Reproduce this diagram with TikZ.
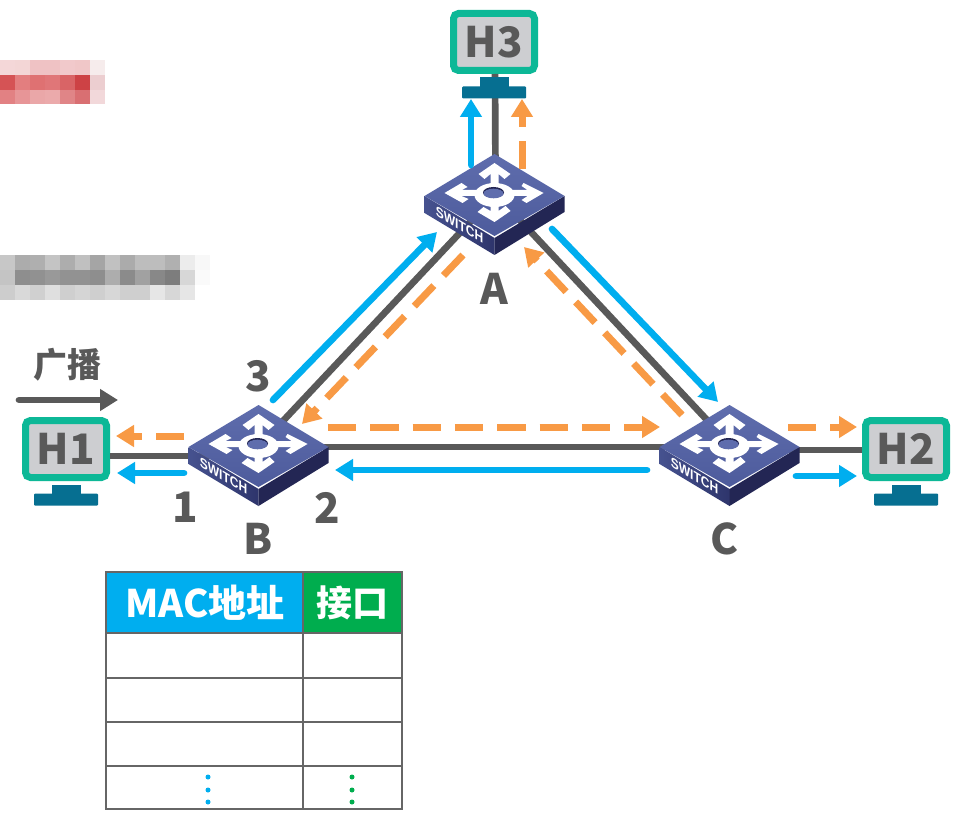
\documentclass[tikz,border=0pt]{standalone}
\usepackage{fontspec}
\setmainfont{Noto Sans CJK SC}
\newfontfamily\swfont{Liberation Sans}
\usetikzlibrary{arrows.meta,calc}
\definecolor{ink}{HTML}{595959}
\definecolor{blueA}{HTML}{00AEEF}
\definecolor{orangeA}{HTML}{F89A45}
\definecolor{greenA}{HTML}{00AD4E}
\definecolor{tealA}{HTML}{0DB897}
\definecolor{screenA}{HTML}{CDCED1}
\definecolor{standA}{HTML}{066F91}
\definecolor{gridA}{HTML}{666666}
\definecolor{swTa}{HTML}{5F6DAD}
\definecolor{swTb}{HTML}{4D5B9C}
\definecolor{swL}{HTML}{46528F}
\definecolor{swLd}{HTML}{2E356C}
\definecolor{swR}{HTML}{232654}
\definecolor{swD}{HTML}{1E2148}
\tikzset{
  link/.style={draw=ink,line width=6.7pt},
  flowblue/.style={draw=blueA,line width=6.7pt,line cap=round,-{Triangle[length=18pt,width=21pt,fill=blueA]}},
  floworange/.style={draw=orangeA,line width=7pt,dash pattern=on 28.3pt off 14pt,-{Triangle[length=18pt,width=21pt,fill=orangeA]}},
  monitor/.style={rectangle,rounded corners=5pt,draw=tealA,line width=7pt,fill=screenA,minimum width=81pt,minimum height=57pt,inner sep=0pt,text=ink,font=\bfseries\fontsize{42}{42}\selectfont},
  lbl/.style={text=ink,inner sep=0pt,font=\bfseries\fontsize{42}{42}\selectfont},
  head/.style={text=white,inner sep=0pt,font=\bfseries\fontsize{36}{36}\selectfont},
  grid/.style={draw=gridA,line width=2.6pt},
  pics/stand/.style={code={
    \fill[standA] (-14,3.5) rectangle (15,13);
    \fill[standA,rounded corners=1pt] (-32,12.5) rectangle (32,24.5);
  }},
  pics/switchbox/.style={code={
    \shade[left color=swL,right color=swLd] (-70,0) -- (0,42) -- (0,59) -- (-70,17) -- cycle;
    \fill[swR] (70,0) -- (0,42) -- (0,59) -- (70,16) -- cycle;
    \shade[top color=swTa,bottom color=swTb] (0,-42) -- (70,0) -- (0,40) -- (-70,0) -- cycle;
    \fill[white] (0,-33) -- (16,-22) -- (10,-17) -- (4,-22) -- (4,-8) -- (-4,-8) -- (-4,-22) -- (-10,-17) -- (-16,-22) -- cycle;
    \fill[white] (0,26) -- (16,15) -- (11,10) -- (4,15) -- (4,6) -- (-4,6) -- (-4,15) -- (-11,11) -- (-17,16) -- cycle;
    \fill[white] (-50,-3) -- (-33,-13) -- (-27,-9) -- (-33,-6) -- (-15,-6) -- (-15,0) -- (-33,0) -- (-26,3) -- (-32,7) -- cycle;
    \fill[white] (49,-3) -- (29,-13) -- (27,-10) -- (33,-6) -- (15,-6) -- (15,0) -- (33,0) -- (27,4) -- (32,7) -- cycle;
    \fill[white] (0,-1) ellipse [x radius=20,y radius=12];
    \fill[swR] (-1,-3.5) ellipse [x radius=10.5,y radius=5.5];
    \fill[swTa] (-1,-2.5) ellipse [x radius=10,y radius=4.8];
    \begin{scope}[cm={0.857,-0.514,0,1,(-35,29)}]
      \node[transform shape,text=white,inner sep=0pt,font=\swfont\bfseries\fontsize{14}{14}\selectfont] {SWITCH};
    \end{scope}
  }},
}
\begin{document}
\begin{tikzpicture}[x=1pt,y=-1pt]
\useasboundingbox[fill=white] (0,0) rectangle (962,821);
% pixelated blocks
\foreach \c [count=\i from 0] in {F4D7D8,F3D6D6,EFC2C4,EFC2C4,F1C9CB,F0C7C8,F6ECEC}{
  \definecolor{tmpc}{HTML}{\c}\fill[tmpc] (\i*15,60) rectangle (\i*15+15.3,75.3);}
\foreach \c [count=\i from 0] in {D55355,E37E7F,DF7172,E07678,D96466,CD4245,ECCED0}{
  \definecolor{tmpc}{HTML}{\c}\fill[tmpc] (\i*15,75) rectangle (\i*15+15.3,90.3);}
\foreach \c [count=\i from 0] in {E28183,E79597,EAA7A8,EBAAAB,E08587,D96F72,F2D8DA}{
  \definecolor{tmpc}{HTML}{\c}\fill[tmpc] (\i*15,90) rectangle (\i*15+15.3,104);}
\foreach \c [count=\i from 0] in {C7C7C7,ACACAC,AFAFAF,C4C4C4,ADADAD,C0C0C0,A5A5A5,C1C1C1,ABABAB,BDBDBD,BDBDBD,B0B0B0,ECECEC,F8F8F8}{
  \definecolor{tmpc}{HTML}{\c}\fill[tmpc] (\i*15,255) rectangle (\i*15+15.3,270.3);}
\foreach \c [count=\i from 0] in {C4C4C4,8E8E8E,919191,999999,929292,929292,8E8E8E,ADADAD,8B8B8B,A1A1A1,888888,7D7D7D,D7D7D7,FAFAFA}{
  \definecolor{tmpc}{HTML}{\c}\fill[tmpc] (\i*15,270) rectangle (\i*15+15.3,285.3);}
\foreach \c [count=\i from 0] in {CDCDCD,D9D9D9,D0D0D0,DFDFDF,CFCFCF,D5D5D5,CFCFCF,D7D7D7,CFCFCF,CFCFCF,E6E6E6,D7D7D7,E6E6E6}{
  \definecolor{tmpc}{HTML}{\c}\fill[tmpc] (\i*15,285) rectangle (\i*15+15.3,300);}
% positions
\coordinate (A) at (494.5,196);
\coordinate (B) at (258.5,447);
\coordinate (C) at (729.5,447);
\node[monitor] (H1) at (66,449) {H1};
\node[monitor] (H2) at (906,449) {H2};
\node[monitor] (H3) at (494,42) {H3};
% links
\draw[link] (A) -- (B);
\draw[link] ($(A)+(0,-3)$) -- ($(C)+(0,-3)$);
\draw[link] (B) -- (C);
\draw[link] ($(H1.east)+(0,7)$) -- ($(B)+(0,9)$);
\draw[link] ($(C)+(0,3)$) -- ($(H2.west)+(0,1)$);
\draw[link] ($(H3.south)+(1,0)$) -- ($(A)+(1,-20)$);
\pic at (H1.south) {stand};
\pic at (H2.south) {stand};
\pic at (H3.south) {stand};
% switches
\pic at (A) {switchbox};
\pic at (B) {switchbox};
\pic at (C) {switchbox};
% flows
\coordinate (a1s) at (471,165); \coordinate (a1e) at (471,99);
\coordinate (a2s) at (522,169); \coordinate (a2e) at (522,99);
\draw[flowblue] (a1s) -- (a1e);
\draw[floworange] (a2s) -- (a2e);
\coordinate (b1s) at (273,400); \coordinate (b1e) at (437,232);
\coordinate (b2s) at (463,255); \coordinate (b2e) at (302,424);
\draw[flowblue] (b1s) -- (b1e);
\draw[floworange] (b2s) -- (b2e);
\coordinate (c1s) at (552,229); \coordinate (c1e) at (718,402);
\coordinate (c2s) at (682,415); \coordinate (c2e) at (524,247);
\draw[flowblue] (c1s) -- (c1e);
\draw[floworange] (c2s) -- (c2e);
\coordinate (d1s) at (328,427); \coordinate (d1e) at (660,427);
\coordinate (d2s) at (647,470); \coordinate (d2e) at (335,470);
\draw[floworange] (d1s) -- (d1e);
\draw[flowblue] (d2s) -- (d2e);
\coordinate (e1s) at (184,436); \coordinate (e1e) at (116,436);
\coordinate (e2s) at (184,473); \coordinate (e2e) at (117,473);
\draw[floworange] (e1s) -- (e1e);
\draw[flowblue] (e2s) -- (e2e);
\coordinate (f1s) at (788,427); \coordinate (f1e) at (857,427);
\coordinate (f2s) at (796,476); \coordinate (f2e) at (857,476);
\draw[floworange] (f1s) -- (f1e);
\draw[flowblue] (f2s) -- (f2e);
% broadcast
\coordinate (g1s) at (19,400); \coordinate (g1e) at (118,400);
\draw[draw=ink,line width=6.7pt,line cap=round,-{Triangle[length=18pt,width=21pt,fill=ink]}] (g1s) -- (g1e);
\node[text=ink,inner sep=0pt,font=\bfseries\fontsize{34}{34}\selectfont] (bc) at (68,365) {广播};
% labels
\node[lbl] (la) at (494,289) {A};
\node[lbl] (lb) at (258,539) {B};
\node[lbl] (lc) at (725,539) {C};
\node[lbl] (l1) at (185,507) {1};
\node[lbl] (l2) at (327,508) {2};
\node[lbl] (l3) at (258,376) {3};
% table
\fill[blueA] (106,572) rectangle (303,633);
\fill[greenA] (303,572) rectangle (402,633);
\draw[grid] (106,572) rectangle (402,809);
\draw[grid] (303,572) -- (303,809);
\foreach \yy in {633,678,722,766}{\draw[grid] (106,\yy) -- (402,\yy);}
\node[head,font=\bfseries\fontsize{38}{38}\selectfont] (mac) at (205,603) {MAC地址};
\node[head] (port) at (352,603) {接口};
\foreach \yy in {777,790,802}{
  \fill[blueA] (208,\yy) circle (2.5);
  \fill[greenA] (352,\yy) circle (2.5);
}
\end{tikzpicture}
\end{document}
